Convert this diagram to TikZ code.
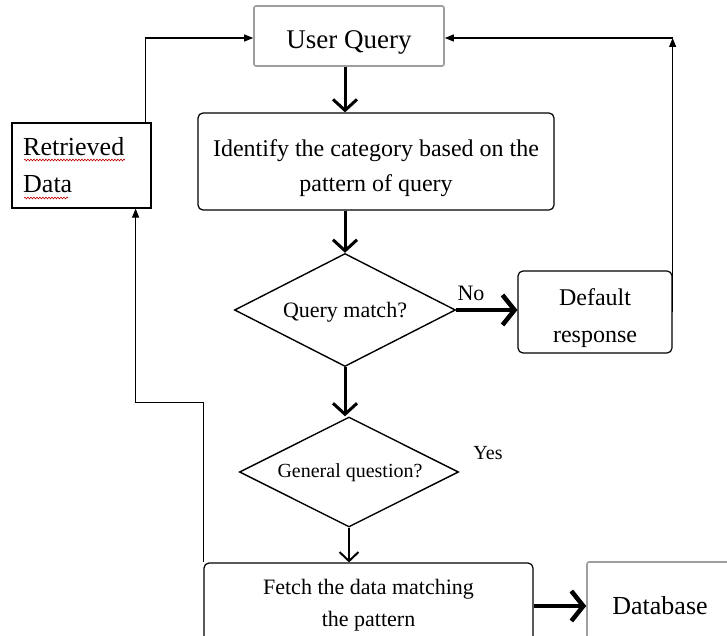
\documentclass[tikz,border=0pt]{standalone}
\usepackage{fontspec}
\setmainfont{Liberation Serif}
\usetikzlibrary{shapes.geometric,arrows.meta,decorations.pathmorphing}
\begin{document}
\begin{tikzpicture}[x=1pt,y=-1pt,
  box/.style={draw=black, line width=1.2pt, rounded corners=5pt, align=center, inner sep=0pt},
  graybox/.style={draw=black!38, line width=1.6pt, rounded corners=2pt, align=center, inner sep=0pt},
  sqbox/.style={draw=black, line width=1.2pt, inner sep=0pt},
  dia/.style={draw=black, line width=1.4pt, diamond, inner sep=0pt},
  thickarrow/.style={line width=3pt, -{Straight Barb[length=11pt,width=24pt]}},
  bigarrow/.style={line width=4.5pt, -{Straight Barb[length=12pt,width=30pt]}},
  medarrow/.style={line width=2pt, -{Straight Barb[length=9pt,width=19pt]}},
  thinarrow/.style={line width=1.1pt, -{Triangle[length=9pt,width=7pt]}},
  squig/.style={red!75!black, line width=0.6pt, decorate, decoration={snake, amplitude=0.9pt, segment length=3pt}},
  lbl/.style={inner sep=0pt}
]
\useasboundingbox (0,0) rectangle (727,636);
\clip (0,0) rectangle (727,636);

% nodes
\node[graybox, minimum width=190pt, minimum height=60pt, font=\fontsize{27}{32}\selectfont] (uq) at (349,36) {\rule{0pt}{30pt}User Query};
\node[box, minimum width=356pt, minimum height=97pt, font=\fontsize{24}{35}\selectfont] (ident) at (376,161.5) {\rule{0pt}{31pt}Identify the category based on the\\pattern of query};
\node[dia, minimum width=221pt, minimum height=113pt] (d1) at (345,310) {};
\node[lbl, font=\fontsize{22}{26}\selectfont] (d1t) at (345,312) {Query match?};
\node[lbl, font=\fontsize{22}{26}\selectfont] (no) at (471,293) {No};
\node[box, minimum width=154pt, minimum height=82pt, font=\fontsize{24}{37}\selectfont] (def) at (595,312) {\rule{0pt}{29pt}Default\\response};
\node[dia, minimum width=219pt, minimum height=110pt] (d2) at (349,472) {};
\node[lbl, font=\fontsize{20}{24}\selectfont] (d2t) at (350,473) {General question?};
\node[lbl, font=\fontsize{20}{24}\selectfont] (yes) at (488,453) {Yes};
\node[box, minimum width=329pt, minimum height=84pt, font=\fontsize{22}{32}\selectfont] (fetch) at (368.5,605) {Fetch the data matching\\the pattern};
\node[graybox, minimum width=160pt, minimum height=88pt, font=\fontsize{26}{30}\selectfont] (db) at (667,606) {\hspace*{-14pt}Database};
\node[sqbox, minimum width=139pt, minimum height=85pt] (ret) at (81.5,165.5) {};
\node[lbl, anchor=west, align=left, font=\fontsize{26}{37}\selectfont] (rett) at (23,165) {Retrieved\\Data};

% spell-check underlines
\draw[squig] (24,160) -- (125,160);
\draw[squig] (24,198) -- (68,198);

% main flow
\draw[thickarrow] (uq.south -| d1.north) -- (ident.north -| d1.north);
\draw[thickarrow] (ident.south -| d1.north) -- (d1.north);
\draw[thickarrow] (d1.south) -- (d1.south |- d2.north);
\draw[medarrow] (d2.south) -- (d2.south |- fetch.north);
\draw[bigarrow] (d1.east) -- (d1.east -| def.west);
\draw[bigarrow] (fetch.east |- db.west) -- (db.west);

% loops
\coordinate (rc) at ([yshift=-2pt]def.east |- uq.east);
\draw[thinarrow] (def.east) -- (rc);
\draw[thinarrow] (rc) -- (rc -| uq.east);
\coordinate (lc) at ([xshift=-6pt]ret.north east);
\draw[thinarrow] (lc) |- ([yshift=-2pt]uq.west);
\coordinate (bl) at ([xshift=-16pt]ret.south east);
\draw[thinarrow] (fetch.north west) -- ++(0,-160) -| (bl);
\end{tikzpicture}
\end{document}
